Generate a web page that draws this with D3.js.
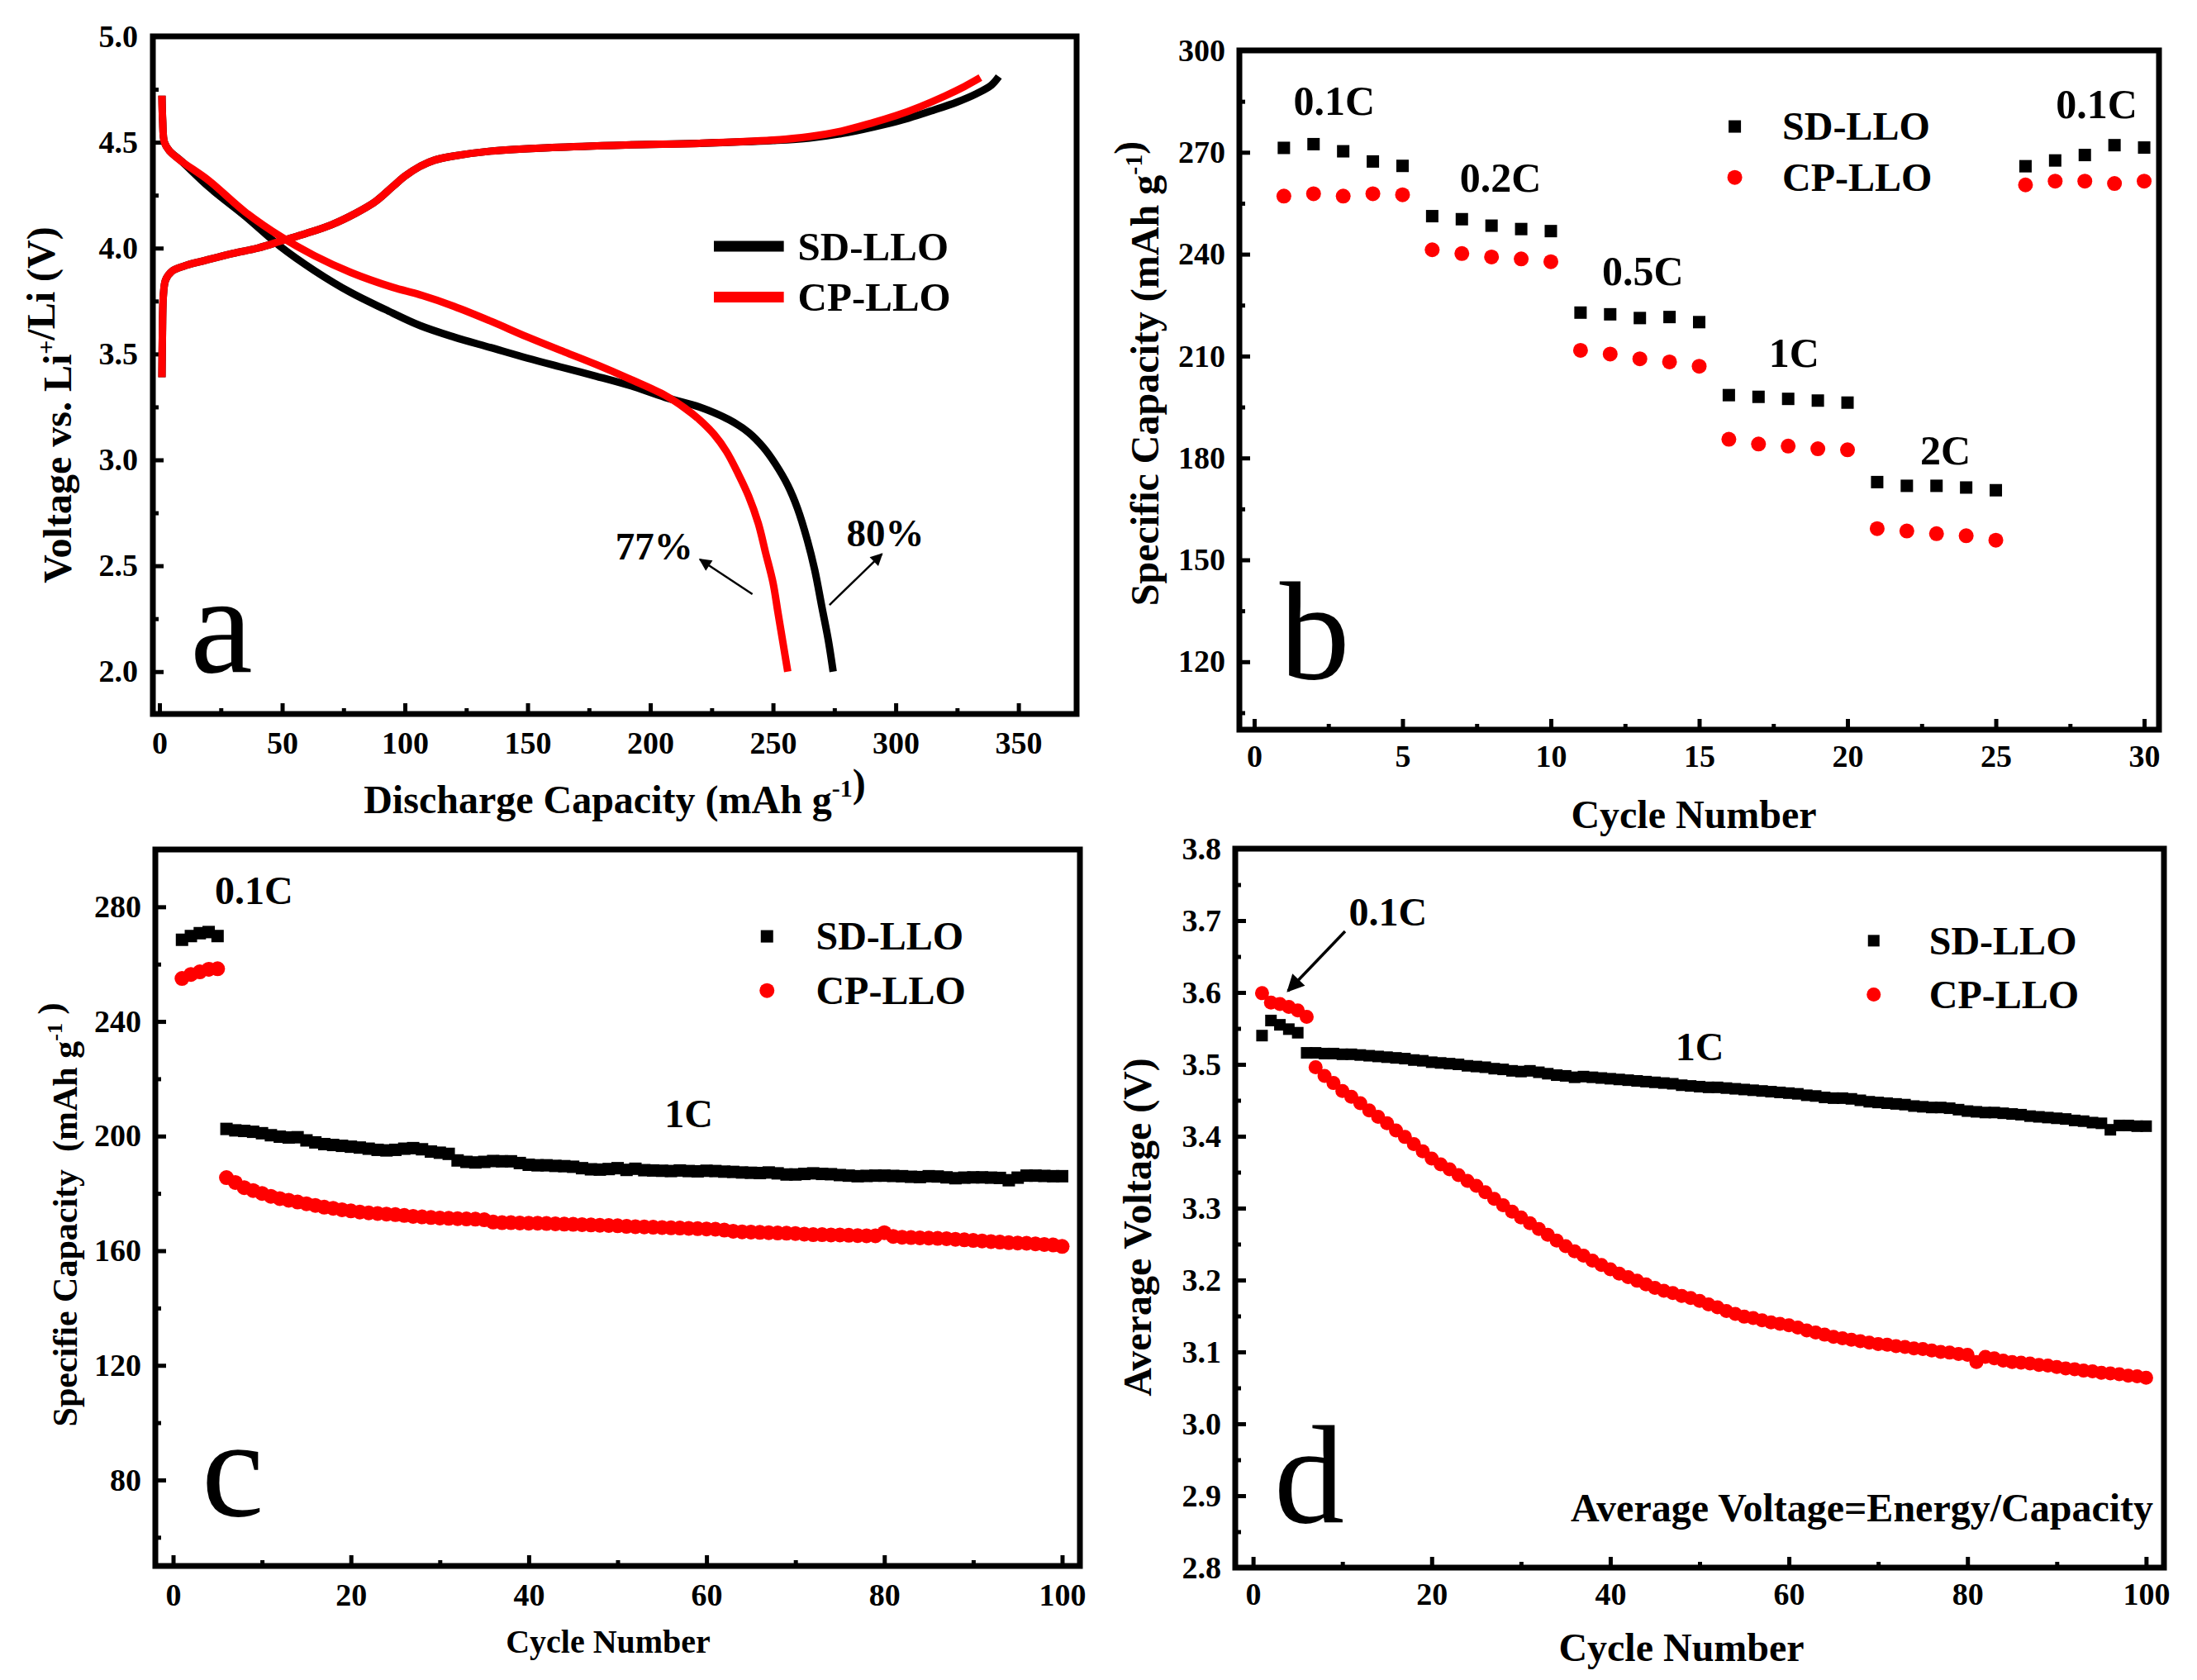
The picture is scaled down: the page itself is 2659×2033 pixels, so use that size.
<!DOCTYPE html>
<html><head><meta charset="utf-8">
<script src="https://cdn.jsdelivr.net/npm/d3@7/dist/d3.min.js"></script>
<style>
body{margin:0;background:#fff}
text{font-family:"Liberation Serif","Times New Roman",serif;font-weight:bold;fill:#000}
</style>
</head><body>
<svg id="fig" width="2659" height="2033"></svg>
<script>
// ---------- Panel a: charge/discharge curves [capacity, voltage] ----------
const sdCharge = [[1.0,3.39],[1.2,3.6],[1.6,3.78],[2.5,3.85],[5,3.89],[10,3.915],[18,3.94],[30,3.975],[40,4.0],[50,4.035],[60,4.07],[70,4.11],[80,4.165],[88,4.22],[95,4.29],[100,4.34],[106,4.385],[112,4.415],[120,4.435],[135,4.458],[160,4.475],[190,4.487],[220,4.495],[250,4.508],[265,4.52],[280,4.545],[295,4.583],[305,4.613],[315,4.65],[325,4.69],[333,4.73],[339,4.77],[342,4.81]];
const cpCharge = [[1.0,3.39],[1.2,3.6],[1.6,3.78],[2.5,3.85],[5,3.89],[10,3.915],[18,3.94],[30,3.975],[40,4.0],[50,4.035],[60,4.07],[70,4.11],[80,4.165],[88,4.22],[95,4.29],[100,4.34],[106,4.385],[112,4.415],[120,4.435],[135,4.458],[160,4.475],[190,4.487],[220,4.495],[250,4.51],[265,4.527],[278,4.553],[290,4.59],[300,4.625],[310,4.668],[320,4.718],[328,4.763],[334.5,4.805]];
const sdDischarge = [[1.0,4.72],[1.3,4.6],[2,4.5],[4,4.46],[9,4.41],[20,4.29],[35,4.15],[49,4.01],[63,3.895],[78,3.79],[92,3.71],[106,3.635],[120,3.58],[135,3.53],[150,3.48],[163,3.44],[178,3.395],[192,3.35],[206,3.295],[220,3.25],[232,3.19],[240,3.13],[246,3.06],[251,2.98],[256,2.88],[260,2.77],[264,2.62],[267,2.48],[270,2.30],[272.5,2.15],[274.5,2.0]];
const cpDischarge = [[1.0,4.72],[1.3,4.6],[2,4.5],[4,4.46],[9,4.41],[20,4.32],[35,4.17],[50,4.05],[63,3.965],[78,3.885],[95,3.815],[106,3.78],[120,3.725],[135,3.655],[150,3.58],[165,3.51],[178,3.45],[192,3.38],[206,3.305],[214,3.245],[220,3.19],[226,3.12],[231,3.04],[236,2.93],[240,2.83],[244,2.70],[247,2.56],[250,2.42],[252,2.28],[254,2.14],[256,2.0]];

// ---------- Panel b: rate capability ----------
const bCycles = [1,2,3,4,5,6,7,8,9,10,11,12,13,14,15,16,17,18,19,20,21,22,23,24,25,26,27,28,29,30];
const bSD = [271.3,272.4,270.3,267.3,266.0,251.2,250.3,248.4,247.4,246.8,222.8,222.3,221.2,221.5,220.0,198.5,198.0,197.4,196.9,196.3,172.9,171.8,171.8,171.3,170.5,265.9,267.6,269.2,272.1,271.4];
const bCP = [257.1,257.8,257.1,257.8,257.5,241.3,240.2,239.2,238.6,237.8,211.7,210.6,209.2,208.3,207.0,185.5,184.1,183.5,182.7,182.4,159.2,158.5,157.7,157.1,155.8,260.4,261.5,261.5,260.8,261.5];
const bRates = [{t:"0.1C",x:2.7,y:281},{t:"0.2C",x:8.3,y:258.5},{t:"0.5C",x:13.1,y:230.8},{t:"1C",x:18.2,y:206.8},{t:"2C",x:23.3,y:178},{t:"0.1C",x:28.4,y:280}];

// ---------- Panel c: cycling capacity ----------
const cSD01 = [268.5,269.8,270.8,271.2,269.8];               // cycles 1-5
const cCP01 = [255.0,256.4,257.3,258.2,258.4];               // cycles 1-5
const cSD1C = [202.5,202,201.8,201.5,201,200.3,199.8,199.5,199.6,198.5,197.8,197.2,196.9,196.6,196.3,196,195.6,195.2,195,195.2,195.6,195.8,195.4,194.6,194.2,193.8,191.5,191,190.8,191,191.3,191.2,191.2,190.6,190,189.8,189.8,189.6,189.5,189.3,188.8,188.4,188.3,188.5,188.8,188.2,188.6,188.1,188,187.9,187.8,188,187.8,187.7,187.9,187.8,187.6,187.5,187.3,187.2,187.1,187.3,187,186.6,186.6,186.8,187,186.8,186.7,186.4,186.2,186,186.1,186.2,186.2,186.1,186,185.8,185.7,186,185.9,185.6,185.3,185.5,185.6,185.6,185.5,185.4,184.6,185.5,186.2,186.2,186.1,186,186]; // cycles 6-100
const cCP1C = [185.5,183.8,182,181,180,179,178.2,177.6,177,176.4,175.8,175.2,174.8,174.3,173.9,173.5,173.2,173,172.8,172.6,172.3,172,171.8,171.6,171.4,171.3,171.2,171.1,171,170.8,170,169.8,169.8,169.7,169.6,169.6,169.5,169.4,169.3,169.2,169.1,169,168.9,168.8,168.7,168.5,168.4,168.3,168.2,168.1,168,167.9,167.8,167.7,167.6,167.5,167.2,166.8,166.6,166.5,166.4,166.3,166.2,166.1,166,165.8,165.6,165.6,165.5,165.5,165.4,165.3,165.2,165.2,166.3,165,164.7,164.6,164.5,164.4,164.3,164.2,164,163.8,163.6,163.4,163.2,163,162.8,162.7,162.6,162.4,162.2,162,161.5]; // cycles 6-100

// ---------- Panel d: average voltage ----------
const dSD01 = [3.540,3.561,3.555,3.549,3.544];               // cycles 1-5
const dCP01 = [3.599,3.586,3.584,3.580,3.575,3.566];         // cycles 1-6
const dSD1C = [3.516,3.516,3.515,3.515,3.514,3.514,3.513,3.512,3.511,3.510,3.509,3.508,3.506,3.505,3.503,3.502,3.501,3.500,3.498,3.497,3.496,3.494,3.493,3.491,3.490,3.491,3.489,3.487,3.485,3.484,3.482,3.483,3.482,3.481,3.480,3.479,3.478,3.477,3.476,3.475,3.474,3.473,3.471,3.470,3.469,3.468,3.468,3.467,3.466,3.465,3.464,3.463,3.462,3.461,3.460,3.459,3.457,3.456,3.454,3.453,3.453,3.452,3.450,3.448,3.447,3.446,3.445,3.444,3.442,3.441,3.440,3.440,3.439,3.437,3.435,3.434,3.433,3.433,3.432,3.431,3.430,3.428,3.427,3.426,3.425,3.424,3.422,3.421,3.419,3.418,3.409,3.415,3.415,3.414,3.414]; // cycles 6-100
const dCP1C = [3.496,3.484,3.474,3.463,3.455,3.446,3.436,3.427,3.418,3.408,3.399,3.389,3.379,3.369,3.361,3.354,3.346,3.338,3.331,3.322,3.313,3.304,3.295,3.287,3.279,3.271,3.263,3.255,3.247,3.240,3.234,3.227,3.221,3.215,3.209,3.204,3.199,3.194,3.189,3.185,3.182,3.178,3.175,3.171,3.166,3.162,3.157,3.153,3.149,3.147,3.144,3.141,3.139,3.137,3.134,3.130,3.127,3.124,3.121,3.119,3.117,3.115,3.113,3.111,3.110,3.108,3.107,3.105,3.104,3.102,3.100,3.099,3.097,3.096,3.086,3.093,3.091,3.088,3.086,3.085,3.084,3.082,3.081,3.079,3.077,3.076,3.074,3.073,3.071,3.070,3.069,3.067,3.066,3.064]; // cycles 7-100

// ---------- tick values ----------
const aXTicks = [0,50,100,150,200,250,300,350], aXMinor = [25,75,125,175,225,275,325];
const aYTicks = [2.0,2.5,3.0,3.5,4.0,4.5,5.0], aYMinor = [2.25,2.75,3.25,3.75,4.25,4.75];
const bXTicks = [0,5,10,15,20,25,30], bXMinor = [2.5,7.5,12.5,17.5,22.5,27.5];
const bYTicks = [120,150,180,210,240,270,300], bYMinor = [105,135,165,195,225,255,285];
const cXTicks = [0,20,40,60,80,100], cXMinor = [10,30,50,70,90];
const cYTicks = [80,120,160,200,240,280], cYMinor = [60,100,140,180,220,260,300];
const dXTicks = [0,20,40,60,80,100], dXMinor = [10,30,50,70,90];
const dYTicks = [2.8,2.9,3.0,3.1,3.2,3.3,3.4,3.5,3.6,3.7,3.8], dYMinor = [2.85,2.95,3.05,3.15,3.25,3.35,3.45,3.55,3.65,3.75];

const RED = "#ff0000", BLACK = "#000000";
const svg = d3.select("#fig");
svg.append("rect").attr("width",2659).attr("height",2033).attr("fill","#fff");
const defs = svg.append("defs");
defs.append("marker").attr("id","arr").attr("viewBox","0 0 10 10").attr("refX",9).attr("refY",5)
  .attr("markerWidth",9).attr("markerHeight",6).attr("markerUnits","strokeWidth").attr("orient","auto")
  .append("path").attr("d","M0,0L10,5L0,10z").attr("fill","#000");

function panel(p){
  const x = d3.scaleLinear().domain(p.xd).range([p.L,p.R]);
  const y = d3.scaleLinear().domain(p.yd).range([p.B,p.T]);
  const g = svg.append("g");
  const style = (sel, fs) => { sel.select(".domain").remove(); sel.attr("font-size",fs).attr("font-family",null);
    sel.selectAll("line").attr("stroke","#000").attr("stroke-width",5); };
  g.append("g").attr("transform",`translate(0,${p.B})`)
    .call(d3.axisBottom(x).tickValues(p.xmin).tickSize(-7).tickFormat("")).call(s=>style(s,38));
  g.append("g").attr("transform",`translate(${p.L},0)`)
    .call(d3.axisLeft(y).tickValues(p.ymin).tickSize(-7).tickFormat("")).call(s=>style(s,38));
  g.append("g").attr("transform",`translate(0,${p.B})`)
    .call(d3.axisBottom(x).tickValues(p.xt).tickSize(-13).tickPadding(p.xpad).tickFormat(p.xf)).call(s=>style(s,38));
  g.append("g").attr("transform",`translate(${p.L},0)`)
    .call(d3.axisLeft(y).tickValues(p.yt).tickSize(-13).tickPadding(p.ypad).tickFormat(p.yf)).call(s=>style(s,38));
  const data = g.append("g");
  g.append("rect").attr("x",p.L).attr("y",p.T).attr("width",p.R-p.L).attr("height",p.B-p.T)
    .attr("fill","none").attr("stroke","#000").attr("stroke-width",7);
  return {g:data, top:g, x, y};
}

function title(g, x, y, parts, fs, rotate, extra){
  const t = g.append("text").attr("font-size",fs).attr("text-anchor","middle")
    .attr("transform",`translate(${x},${y})${rotate?" rotate(-90)":""}`);
  if (extra) t.style("white-space","pre");
  parts.forEach(pt=>{
    if (pt.sup){
      t.append("tspan").attr("font-size",Math.round(fs*0.62)).attr("dy",-fs*0.42).text(pt.sup);
      t.append("tspan").attr("dy",fs*0.42).text("");
    } else t.append("tspan").text(pt.t);
  });
  return t;
}

function squares(g, x, y, xs, ys, s){
  g.selectAll(null).data(ys).enter().append("rect")
    .attr("x",(d,i)=>x(xs(i))-s/2).attr("y",d=>y(d)-s/2).attr("width",s).attr("height",s).attr("fill",BLACK);
}
function circles(g, x, y, xs, ys, r){
  g.selectAll(null).data(ys).enter().append("circle")
    .attr("cx",(d,i)=>x(xs(i))).attr("cy",d=>y(d)).attr("r",r).attr("fill",RED);
}

// ===== Panel a =====
{
  const P = panel({L:185,R:1303,T:44,B:864,xd:[-2.7,373.7],yd:[1.8,5.0],xt:aXTicks,xmin:aXMinor,yt:aYTicks,ymin:aYMinor,
    xf:d3.format("d"),yf:d3.format(".1f"),xpad:21,ypad:18});
  const {g,x,y} = P;
  const line = d3.line().x(d=>x(d[0])).y(d=>y(d[1])).curve(d3.curveCatmullRom.alpha(0.5));
  [[sdCharge,BLACK],[sdDischarge,BLACK],[cpCharge,RED],[cpDischarge,RED]].forEach(([d,c])=>{
    g.append("path").attr("d",line(d)).attr("fill","none").attr("stroke",c).attr("stroke-width",9).attr("stroke-linejoin","round");
  });
  // legend
  [[4.009,BLACK,"SD-LLO"],[3.769,RED,"CP-LLO"]].forEach(([v,c,t])=>{
    g.append("line").attr("x1",x(225.9)).attr("x2",x(254.4)).attr("y1",y(v)).attr("y2",y(v)).attr("stroke",c).attr("stroke-width",13);
    g.append("text").attr("x",x(260.1)).attr("y",y(v)).attr("dy","0.34em").attr("font-size",49).text(t);
  });
  // annotations
  g.append("text").attr("x",x(201.6)).attr("y",y(2.53)).attr("text-anchor","middle").attr("font-size",47).text("77%");
  g.append("text").attr("x",x(295.8)).attr("y",y(2.593)).attr("text-anchor","middle").attr("font-size",47).text("80%");
  g.append("line").attr("x1",x(241.6)).attr("y1",y(2.366)).attr("x2",x(220.2)).attr("y2",y(2.53)).attr("stroke","#000").attr("stroke-width",2.5).attr("marker-end","url(#arr)");
  g.append("line").attr("x1",x(273)).attr("y1",y(2.315)).attr("x2",x(294.4)).attr("y2",y(2.556)).attr("stroke","#000").attr("stroke-width",2.5).attr("marker-end","url(#arr)");
  g.append("text").attr("x",x(12.5)).attr("y",y(2.0)).attr("font-size",170).attr("font-weight","normal").style("font-weight","normal").text("a");
  title(svg, 744, 984, [{t:"Discharge Capacity (mAh g"},{sup:"-1"},{t:")"}], 48, false);
  title(svg, 86, 490, [{t:"Voltage vs. Li"},{sup:"+"},{t:"/Li (V)"}], 48, true);
}

// ===== Panel b =====
{
  const P = panel({L:1500,R:2613,T:61,B:883,xd:[-0.5,30.5],yd:[100,300],xt:bXTicks,xmin:bXMinor,yt:bYTicks,ymin:bYMinor,
    xf:d3.format("d"),yf:d3.format("d"),xpad:18,ypad:17});
  const {g,x,y} = P;
  squares(g,x,y,i=>bCycles[i],bSD,15);
  circles(g,x,y,i=>bCycles[i],bCP,9);
  bRates.forEach(r=>g.append("text").attr("x",x(r.x)).attr("y",y(r.y)).attr("text-anchor","middle").attr("font-size",50).text(r.t));
  g.append("rect").attr("x",x(16.2)-7.5).attr("y",y(277.6)-7.5).attr("width",15).attr("height",15).attr("fill",BLACK);
  g.append("circle").attr("cx",x(16.2)).attr("cy",y(262.6)).attr("r",9).attr("fill",RED);
  g.append("text").attr("x",x(17.8)).attr("y",y(277.6)).attr("dy","0.34em").attr("font-size",48).text("SD-LLO");
  g.append("text").attr("x",x(17.8)).attr("y",y(262.6)).attr("dy","0.34em").attr("font-size",48).text("CP-LLO");
  g.append("text").attr("x",x(0.86)).attr("y",y(115)).attr("font-size",170).style("font-weight","normal").text("b");
  title(svg, 2050, 1002, [{t:"Cycle Number"}], 48, false);
  title(svg, 1402, 452, [{t:"Specific Capacity (mAh g"},{sup:"-1"},{t:")"}], 48, true);
}

// ===== Panel c =====
{
  const P = panel({L:188,R:1307,T:1028,B:1895,xd:[-2,102],yd:[50,300],xt:cXTicks,xmin:cXMinor,yt:cYTicks,ymin:cYMinor,
    xf:d3.format("d"),yf:d3.format("d"),xpad:21,ypad:17});
  const {g,x,y} = P;
  squares(g,x,y,i=>i+1,cSD01,15);
  squares(g,x,y,i=>i+6,cSD1C,15);
  circles(g,x,y,i=>i+1,cCP01,9);
  circles(g,x,y,i=>i+6,cCP1C,9);
  g.append("text").attr("x",x(9.1)).attr("y",y(281)).attr("text-anchor","middle").attr("font-size",48).text("0.1C");
  g.append("text").attr("x",x(58)).attr("y",y(203.2)).attr("text-anchor","middle").attr("font-size",48).text("1C");
  g.append("rect").attr("x",x(66.8)-7.5).attr("y",y(269.7)-7.5).attr("width",15).attr("height",15).attr("fill",BLACK);
  g.append("circle").attr("cx",x(66.8)).attr("cy",y(250.8)).attr("r",9).attr("fill",RED);
  g.append("text").attr("x",x(72.3)).attr("y",y(269.7)).attr("dy","0.34em").attr("font-size",48).text("SD-LLO");
  g.append("text").attr("x",x(72.3)).attr("y",y(250.8)).attr("dy","0.34em").attr("font-size",48).text("CP-LLO");
  g.append("text").attr("x",x(3.2)).attr("y",y(67.6)).attr("font-size",170).style("font-weight","normal").text("c");
  title(svg, 736, 2000, [{t:"Cycle Number"}], 40, false);
  title(svg, 93, 1470, [{t:"Specifie Capacity  (mAh g"},{sup:"-1"},{t:" )"}], 42, true, true);
}

// ===== Panel d =====
{
  const P = panel({L:1495,R:2619,T:1027,B:1897,xd:[-2,102],yd:[2.8,3.8],xt:dXTicks,xmin:dXMinor,yt:dYTicks,ymin:dYMinor,
    xf:d3.format("d"),yf:d3.format(".1f"),xpad:18,ypad:17});
  const {g,x,y} = P;
  squares(g,x,y,i=>i+1,dSD01,14);
  squares(g,x,y,i=>i+6,dSD1C,14);
  circles(g,x,y,i=>i+1,dCP01,8.5);
  circles(g,x,y,i=>i+7,dCP1C,8.5);
  g.append("text").attr("x",x(15.1)).attr("y",y(3.693)).attr("text-anchor","middle").attr("font-size",48).text("0.1C");
  g.append("line").attr("x1",x(10.3)).attr("y1",y(3.685)).attr("x2",x(3.9)).attr("y2",y(3.602)).attr("stroke","#000").attr("stroke-width",3.5).attr("marker-end","url(#arr)");
  g.append("text").attr("x",x(50)).attr("y",y(3.506)).attr("text-anchor","middle").attr("font-size",48).text("1C");
  g.append("rect").attr("x",x(69.5)-7).attr("y",y(3.672)-7).attr("width",14).attr("height",14).attr("fill",BLACK);
  g.append("circle").attr("cx",x(69.5)).attr("cy",y(3.597)).attr("r",8.5).attr("fill",RED);
  g.append("text").attr("x",x(75.7)).attr("y",y(3.672)).attr("dy","0.34em").attr("font-size",48).text("SD-LLO");
  g.append("text").attr("x",x(75.7)).attr("y",y(3.597)).attr("dy","0.34em").attr("font-size",48).text("CP-LLO");
  g.append("text").attr("x",x(100.8)).attr("y",y(2.864)).attr("text-anchor","end").attr("font-size",48).text("Average Voltage=Energy/Capacity");
  g.append("text").attr("x",x(2.35)).attr("y",y(2.863)).attr("font-size",170).style("font-weight","normal").text("d");
  title(svg, 2035, 2010, [{t:"Cycle Number"}], 48, false);
  title(svg, 1393, 1485, [{t:"Average Voltage (V)"}], 48, true);
}
</script>
</body></html>
